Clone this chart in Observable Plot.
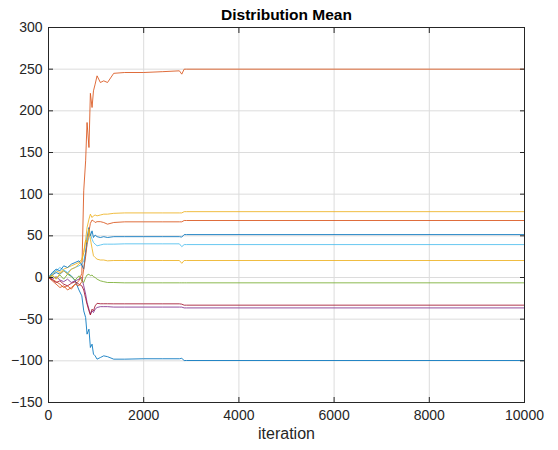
<!DOCTYPE html>
<html>
<head>
<meta charset="utf-8">
<script src="https://cdn.jsdelivr.net/npm/d3@7"></script>
<script src="https://cdn.jsdelivr.net/npm/@observablehq/plot@0.6"></script>
<style>
  html, body { margin: 0; padding: 0; background: #fff; }
  #chart { width: 558px; height: 450px; }
</style>
</head>
<body>
<div id="chart"></div>
<script>
const iterations = [0, 80, 160, 240, 320, 400, 480, 560, 640, 700, 740, 780, 810, 850, 880, 915, 945, 980, 1020, 1090, 1160, 1240, 1370, 1600, 2000, 2400, 2750, 2800, 2850, 2900, 10000];

// Series (MATLAB default colour order, cycling)
const s1  = [0, 3, 6, 4, 8, 5, 2, -4, -15, -22, -40, -48, -68, -62, -84, -80, -92, -94, -98, -96, -94, -95, -98, -98, -97.5, -97.5, -97.5, -97, -99.6, -99.6, -99.6];
const s2  = [0, -2, -5, -8, -12, -10, -14, -8, -4, 5, 104, 140, 186, 156, 221, 204, 224, 232, 242, 234, 236, 234, 245, 246, 246, 247, 248, 244, 250, 250, 250];
const s3  = [0, 4, 8, 6, 10, 12, 14, 16, 18, 22, 30, 45, 60, 70, 76, 72, 74, 75, 74, 75, 76, 76, 77, 77.5, 77.5, 77.5, 77.5, 77.5, 79, 79, 79];
const s4  = [0, -2, 1, -3, -5, -2, -6, -4, -2, 0, -10, -20, -30, -38, -44, -40, -42, -38, -36, -35, -35, -35, -35.5, -35.5, -35.5, -35.5, -35.5, -35.5, -36.5, -36.5, -36.5];
const s5  = [0, 2, -1, 3, -2, 4, 1, -3, 2, -4, -6, 0, 3, 4, 2, 3, 1, 0, -2, -4, -5, -6, -6, -6.4, -6.4, -6.4, -6.4, -6.4, -6.4, -6.4, -6.4];
const s6  = [0, 5, 8, 12, 9, 6, 10, 12, 14, 16, 20, 30, 40, 48, 52, 46, 42, 40, 38, 39, 40, 40, 40, 40.4, 40.4, 40.4, 40.4, 37, 39.5, 39.5, 39.5];
const s7  = [0, -3, -6, -4, -8, -10, -7, -5, -8, -10, -15, -25, -32, -40, -45, -38, -40, -34, -31, -31.5, -31.5, -31.5, -31.6, -31.6, -31.6, -31.6, -31.6, -32, -33.2, -33.2, -33.2];
const s8  = [0, 6, 10, 8, 14, 12, 16, 18, 20, 15, 10, 30, 48, 60, 50, 56, 48, 51, 49, 48, 49, 48, 49, 49, 49, 49, 49, 48.5, 51.5, 51.5, 51.5];
const s9  = [0, -4, -8, -12, -10, -15, -12, -8, -10, -5, 10, 25, 40, 55, 65, 69, 68, 66, 67, 67, 66, 64, 66, 66.8, 66.8, 66.8, 66.8, 66.8, 68.4, 68.4, 68.4];
const s10 = [0, 3, -2, 5, 8, 4, 10, 12, 16, 20, 30, 45, 42, 58, 46, 35, 26, 24, 22, 21, 21, 20, 20.4, 20.4, 20.4, 20.4, 20.4, 17, 20.4, 20.4, 20.4];

const seriesValues = [s1, s2, s3, s4, s5, s6, s7, s8, s9, s10];
const seriesColors = ["#0072BD", "#D95319", "#EDB120", "#7E2F8E", "#77AC30", "#4DBEEE", "#A2142F", "#0072BD", "#D95319", "#EDB120"];

const xTicks = [0, 2000, 4000, 6000, 8000, 10000];
const yTicks = [-150, -100, -50, 0, 50, 100, 150, 200, 250, 300];
const titleText = "Distribution Mean";
const xLabel = "iteration";

const rows = [];
seriesValues.forEach((vals, si) => {
  vals.forEach((v, i) => rows.push({series: si, iter: iterations[i], value: v, color: seriesColors[si]}));
});

const axisColor = "#262626";
const plain = d3.format("d");
const chart = Plot.plot({
  width: 558,
  height: 450,
  marginTop: 27,
  marginBottom: 48,
  marginLeft: 48,
  marginRight: 34,
  style: {fontFamily: "'Liberation Sans', Arial, sans-serif", fontSize: "14px", background: "#fff", color: axisColor},
  x: {domain: [0, 10000], ticks: xTicks, tickFormat: plain},
  y: {domain: [-150, 300], ticks: yTicks, tickFormat: plain},
  marks: [
    Plot.gridX(xTicks, {stroke: "#dcdcdc", strokeOpacity: 1, strokeWidth: 1}),
    Plot.gridY(yTicks, {stroke: "#dcdcdc", strokeOpacity: 1, strokeWidth: 1}),
    Plot.line(rows, {x: "iter", y: "value", z: "series", stroke: "color", strokeWidth: 0.85, strokeLinejoin: "round"}),
    Plot.frame({stroke: axisColor, strokeWidth: 1}),
    Plot.axisX(xTicks, {anchor: "bottom", tickSize: -5, tickPadding: 13, tickFormat: plain, stroke: axisColor, fill: axisColor, label: null, fontSize: 14}),
    Plot.axisX(xTicks, {anchor: "top", tickSize: -5, tickFormat: () => "", stroke: axisColor, label: null}),
    Plot.axisY(yTicks, {anchor: "left", tickSize: -5, tickPadding: 11, tickFormat: plain, stroke: axisColor, fill: axisColor, label: null, fontSize: 14}),
    Plot.axisY(yTicks, {anchor: "right", tickSize: -5, tickFormat: () => "", stroke: axisColor, label: null}),
    Plot.text([titleText], {frameAnchor: "top", dy: -19, text: d => d, fontWeight: "bold", fontSize: 15.5, fill: "#000"}),
    Plot.text([xLabel], {frameAnchor: "bottom", dy: 36, text: d => d, fontSize: 16, fill: axisColor})
  ]
});
document.getElementById("chart").appendChild(chart);
</script>
</body>
</html>
